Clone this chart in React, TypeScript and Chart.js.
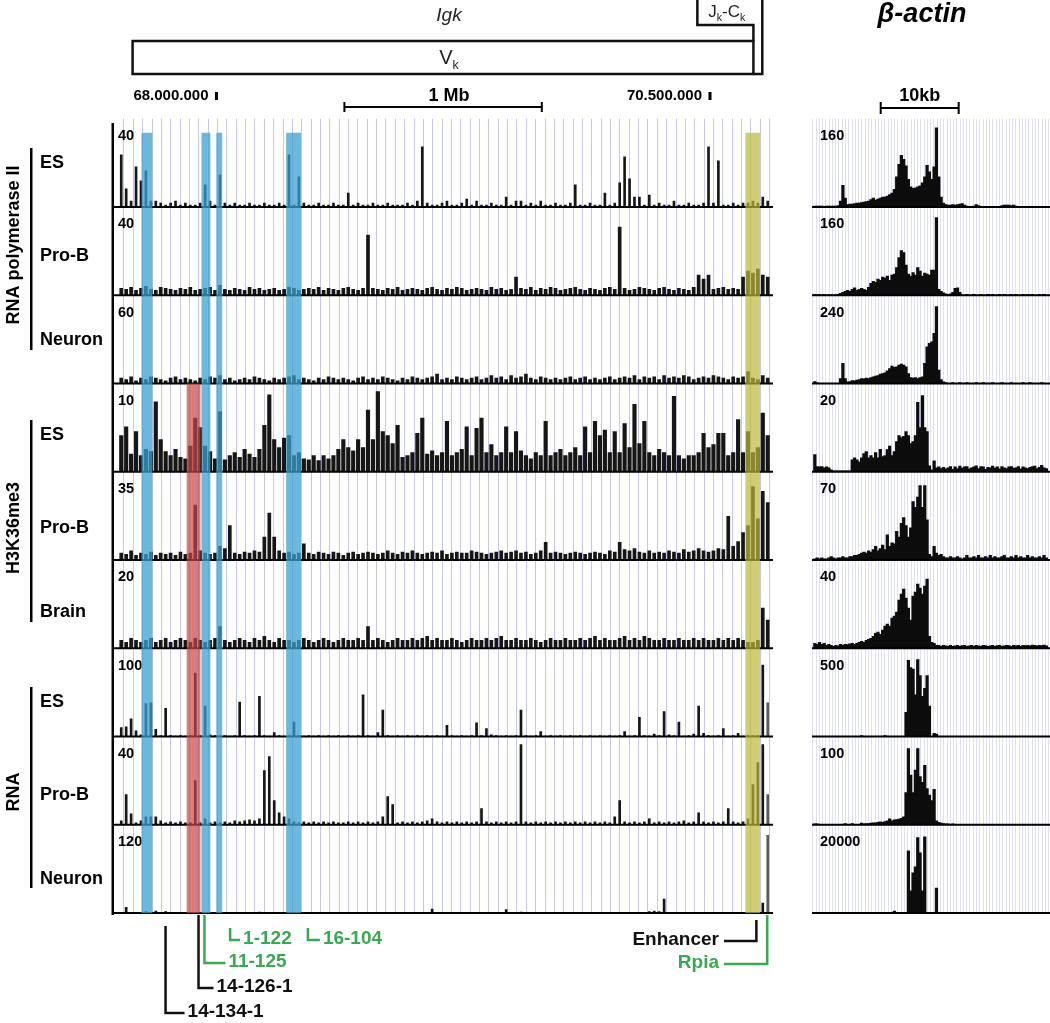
import { useEffect, useRef } from "react";
import { Chart, registerables } from "chart.js";

Chart.register(...registerables);

const FONT = 'Arial, "Liberation Sans", Helvetica, sans-serif';
const GREEN = "#38a852";

// ---------------- Igk locus panel (chromosome position, Mb) ----------------
const igkStartMb = 67.505;
const igkEndMb = 70.795;
const igkBinMb = 0.025;

const igkScaleMax = [40, 40, 60, 10, 35, 20, 100, 40, 120];
const sampleLabels = ["ES", "Pro-B", "Neuron", "ES", "Pro-B", "Brain", "ES", "Pro-B", "Neuron"];
const groupLabels = ["RNA polymerase II", "H3K36me3", "RNA"];

// RNA polymerase II
const polIIEs = [26,9,3,20,13,18,3,3,2,1, 2,3,1,2,1,1,2,11,3,1, 16,2,1,2,1,1,2,1,1,2, 1,1,2,1,26,1,15,2,1,1, 2,1,1,2,1,1,7,1,2,1, 1,2,1,1,2,1,1,1,2,1, 3,30,2,1,1,2,3,1,1,2, 4,1,3,1,1,2,1,1,5,1, 3,3,1,2,1,3,1,1,2,1, 1,2,11,1,1,2,1,1,7,1, 2,12,25,14,5,5,1,6,1,2, 1,1,3,1,1,2,1,1,2,30, 2,23,1,1,2,1,2,2,3,2, 5,3];
const polIIProB = [3.5,3,4,2.5,3.5,4.5,3,2.5,4,3.5, 3,2.5,3.5,3,4,2.5,3,3.5,4,2.5, 5,3,2.5,3.5,3,2.5,4,3,3.5,2.5, 3,3.5,2.5,3,4,3.5,2.5,3,3.5,3, 4,2.5,3.5,3,2.5,3.5,4,3,2.5,3.5, 30,3.5,3,2.5,3.5,3,4,2.5,3,3.5, 3,2.5,3.5,4,3,2.5,3.5,3,4,3.5, 2.5,3,3.5,3,2.5,4,3,3.5,2.5,3, 9,3.5,3,4,2.5,3.5,3,4,3.5,2.5, 3,3.5,4,3,2.5,3.5,3,2.5,3.5,4, 3,34,3.5,2.5,3,4,3.5,3,2.5,3.5, 4,3,2.5,3.5,3,2.5,4,10,8,10, 3,3.5,4,3,3.5,3,9,12,11,13, 10,9];
const polIINeuron = [4,3,5,2,4,3,5,4,3,2, 4,5,3,4,3,2,4,3,5,4, 6,3,4,2,3,4,3,5,4,3, 2,4,3,4,5,6,3,4,3,2, 4,3,5,4,3,4,3,2,4,5, 3,4,3,5,4,3,2,4,3,5, 4,3,4,5,7,3,4,3,5,4, 3,4,5,3,4,6,4,5,3,6, 4,5,7,4,3,5,4,3,4,3, 4,5,3,4,5,3,4,3,4,5, 3,4,5,4,6,3,5,4,5,3, 6,4,5,4,6,5,3,4,5,4, 6,5,4,3,5,4,5,9,4,3, 6,4];

// H3K36me3
const k36Es = [4.5,5.6,2.2,5,2,2.8,2.5,8.7,4,2.5, 2,2.8,1.8,1.6,3.2,6.7,5.5,3.2,2.5,1.6, 7.5,1.5,2,2.4,1.8,2.8,2.2,1.8,2.8,5.8, 9.6,4,3,4.2,4.5,2,2.4,1.6,1.5,2, 1.4,2,1.6,2,2.8,4,3,2.6,4,3, 7.7,4,10,5,4.5,3.5,5.8,1.8,2,2.4, 4.8,6.7,2.2,2.6,2,2.4,6.3,2,2.4,2.8, 5.6,2,5.4,6.7,2.4,3.4,2,2.4,5.6,2.4, 5,2.6,2,1.6,2.4,2,6.3,2,2.4,2.8, 2,2.4,3,2,5.6,2.4,6.3,4.5,5.2,2.4, 5,2.4,6,3,8.4,3.5,6.3,2.4,2,2.8, 2.4,2,9.4,2,1.6,2,2,2.4,4.8,3, 3.4,4.8,4.8,2,2.4,6.5,2.4,5,2.4,3, 7.3,4.5];
const k36ProB = [3,2.5,4,2,3,2.5,3.5,2,3,2.5, 3,2,3.5,2.5,3,24,4,3,2.5,3, 6,5,15,3,2.5,3.5,3,4,3.5,10, 20.5,10,4,3,3.5,2.5,3,7,3,2.5, 3.5,3,2.5,3.5,3,2,3,3.5,2.5,3, 3.5,3,2.5,3,4,3,2.5,3.5,3,4, 3,2.5,3,3.5,3,4,2.5,3,3.5,3, 3,4,3.5,3,2.5,3,3.5,4,3,3.5, 4,3,3.5,2.5,3,4,7.7,3,3.5,3, 2.5,3,3.5,3,2.5,3,3.5,3,2.5,4, 3.5,7.7,4.5,4,5,3.5,3,4,3,3.5, 3,4,3.5,3,4.5,3.5,4,5,4,3.5, 4,5,4.5,19,6,8,12,15,32,18, 30,25];
const k36Brain = [2,1.5,2.5,2,1.5,2,2.5,1.5,2,2.5, 1.5,2,2.5,2,1.5,2.5,2,1.5,2,2.5, 5.4,2,1.5,2,2.5,2,1.5,2.5,2,3, 2,1.5,2.5,2,2,1.5,2,2.5,2,1.5, 2,2.5,2,1.5,2,2.5,2,2,2.5,2, 5.4,2,2.5,2,1.5,2,2.5,2,2,2.5, 2,2.5,3,2,2.5,2,2,2.5,2,1.5, 2,2.5,2,2,2.5,2,2.5,3,2,2, 2.5,2,2,2.5,2,1.5,2,2.5,2,2, 2.5,2,2,2.5,2,2.5,3,2,2.5,2, 2,2.5,3,2,2.5,2,3,2.5,2,2, 2.5,2,2,2.5,2,2,2.5,2,2.5,2, 2,2.5,2,2.5,2,2.5,2,1.5,1.5,2, 10,7];

// RNA
const rnaEs = [11,12,22,7,2,41,42,9,1,35, 1,0.5,1,0.5,1,79,1,38,2,1, 0.5,1,0.5,1,43,1,0.5,1,50,1, 0.5,5,1,0.5,1,18,1,0.5,1,0.5, 1,0.5,1,0.5,1,0.5,1,0.5,1,52, 1,0.5,5,33,1,0.5,1,0.5,1,0.5, 1,0.5,1,0.5,1,0.5,14,1,0.5,1, 0.5,1,17,1,10,2,1,0.5,1,0.5, 1,33,1,0.5,1,6,0.5,1,0.5,1, 0.5,1,0.5,1,0.5,1,0.5,1,0.5,1, 0.5,1,6,0.5,1,24,1,0.5,3,1, 31,2,1,18,0.5,1,3,38,4,1, 0.5,1,10,0.5,1,4,0.5,1,1,1, 89,42];
const rnaProB = [2,15,5.5,1,2,4,4,4,2,1, 1.5,1,1.5,1,1,22,1,3,1,1.5, 1,1.5,1,2,1.5,2,2.5,2,3,27, 34,12,6,4,3,1.5,1,1.5,1,1.5, 1,1.5,1,1.5,1,1,1.5,1,1.5,1, 1.5,1,1.5,4,14,10,1,1.5,1,1.5, 1,1.5,2,3,1.5,1,1.5,1,1.5,1, 1.5,1,1.5,8,1.5,1,1.5,1,1.5,1, 1.5,40,1.5,1,1.5,1,1.5,1,1.5,1, 1.5,1,1.5,1,1.5,1,1.5,1,1.5,1, 4,12,1.5,1,1.5,1,1.5,3,1,1.5, 1,1.5,1,1.5,2,1,1.5,6,1.5,1, 1.5,1,1.5,8,1.5,1,1.5,3,20,31, 40,15];
const rnaNeuron = [0.5,8.5,0.5,0.3,0.5,2,0.5,3,0.5,2, 0.3,0.5,0.3,0.5,0.3,1,0.5,0.3,0.5,0.3, 0.5,0.3,0.5,1,0.3,0.5,0.3,0.5,1.5,0.3, 0.5,0.3,0.5,0.3,0.5,0.3,1,0.3,0.5,0.3, 0.5,0.3,0.5,0.3,0.5,0.3,0.5,0.3,0.5,0.3, 0.5,0.3,0.5,1,0.3,0.5,0.3,0.5,0.3,0.5, 0.3,0.5,0.3,6,0.3,0.5,0.3,0.5,0.3,0.5, 0.3,0.5,0.3,0.5,0.3,0.5,0.3,1,5,0.5, 0.3,1.5,0.3,0.5,0.3,0.5,0.3,0.5,0.3,0.5, 0.3,0.5,0.3,0.5,0.3,0.5,0.3,0.5,0.3,0.5, 0.3,0.5,0.3,0.5,0.3,0.5,0.3,2,3,2, 21,1,0.5,0.3,0.5,0.3,0.5,0.3,0.5,0.3, 0.5,0.3,0.5,0.3,0.5,0.3,0.5,0.3,0.5,0.3, 15,116];

const igkTracks = [polIIEs, polIIProB, polIINeuron, k36Es, k36ProB, k36Brain, rnaEs, rnaProB, rnaNeuron];

// Vk gene-segment grid (Mb)
const vkGridStartMb = 67.555;
const vkGridStepMb = 0.0474;
const vkGridCount = 69;

// Highlighted regions (Mb); first track they start on
const highlightBands = [
  { from: 67.62, to: 67.675, color: "rgba(60,160,205,0.75)", firstTrack: 0 },
  { from: 67.924, to: 67.969, color: "rgba(60,160,205,0.75)", firstTrack: 0 },
  { from: 67.999, to: 68.029, color: "rgba(60,160,205,0.75)", firstTrack: 0 },
  { from: 68.353, to: 68.428, color: "rgba(60,160,205,0.75)", firstTrack: 0 },
  { from: 67.849, to: 67.919, color: "rgba(200,70,70,0.7)", firstTrack: 3 },
  { from: 70.679, to: 70.753, color: "rgba(185,185,55,0.7)", firstTrack: 0 },
];

// Locus map features (Mb)
const vkStartMb = 67.575;
const vkEndMb = 70.72;
const jkCkStartMb = 70.436;
const jkCkEndMb = 70.765;
const coordMarksMb = [68.0, 70.5];
const coordMarkLabels = ["68.000.000", "70.500.000"];
const mbBarFromMb = 68.648;
const mbBarToMb = 69.648;

// Gene marks under the tracks
const geneMarkNames = ["14-134-1", "14-126-1", "11-125", "1-122", "16-104"];
const geneMarkMb = [67.742, 67.909, 67.939, 68.069, 68.463];
const geneMarkGreen = [false, false, true, true, true];
const enhancerMb = 70.735;
const rpiaMb = 70.79;

// ---------------- beta-actin panel (kb) ----------------
const actinEndKb = 30.1;
const actinBinKb = 0.3;
const actinScaleMax = [160, 160, 240, 20, 70, 40, 500, 100, 20000];

const actinPolIIEs = [2,2,2,2,1,2,2,2,2,2, 3,12,43,18,5,6,6,7,8,8, 9,10,11,12,15,18,14,16,18,20, 20,22,25,28,35,60,85,103,95,82, 55,40,37,38,40,42,48,60,83,70, 55,80,158,60,20,8,5,4,4,5, 4,5,6,7,4,2,1,1,2,5, 3,1,1,1,1,1,1,1,1,1, 3,4,4,4,3,4,2,1,1,0, 1,1,0,1,0,1,1,0,1,1];
const actinPolIIProB = [2,0,2,0,2,0,1,1,0,1, 2,4,6,8,10,8,12,15,10,12, 14,12,10,16,24,28,26,32,30,36, 34,38,30,40,42,55,75,89,85,60, 42,38,45,40,55,48,38,44,42,40, 50,50,155,12,8,5,3,2,3,6, 14,15,6,1,0,2,0,0,2,0, 0,2,0,0,2,0,2,0,0,2, 0,2,0,0,2,0,2,0,0,2, 0,2,0,2,0,0,2,0,2,0];
const actinPolIINeuron = [6,2,0,0,0,0,0,0,0,0, 0,15,60,15,5,6,9,8,10,12, 15,14,16,15,18,20,22,24,28,30, 32,38,45,52,48,50,55,58,55,50, 30,18,16,18,15,18,20,60,110,120, 125,150,230,40,12,5,3,0,0,3, 0,0,3,0,0,3,0,0,0,3, 0,0,3,0,0,0,3,0,0,0, 3,0,0,0,3,0,0,0,0,3, 0,0,3,0,0,0,0,3,0,0];
const actinK36Es = [4.3,1.3,1.2,1.3,1,1.2,1,0.5,0.2,0.2, 0.2,0.2,0.2,0.2,0.2,0.2,3,3.5,3,2.5, 3.5,4.5,5,3.5,4,3.5,4.8,3.5,5.6,3.8, 4,5.5,6.4,4,5,7.5,9,8.5,8.8,10, 9,7,7.5,9,17.3,11,19,11,10,1.5, 0.5,2.7,1,1.2,0.8,1.1,0.7,1,1.3,0.6, 1.2,0.8,1.4,0.9,1.2,1.3,0.7,1,1.2,1.5, 0.8,1.3,1.2,0.6,1.1,1,1.4,0.9,1.2,0.7, 1.3,1,0.8,1.2,1.3,0.9,1,1.3,0.7,1.2, 1,0.8,1.1,1.3,1.4,0.8,1.1,1.6,1,0.8];
const actinK36ProB = [1,2,1,2,1,1,2,3,2,1, 2,2,3,2,2,3,3,4,4,5, 6,7,6,8,7,9,12,8,10,13, 9,22,12,15,14,25,20,32,37,30, 20,28,51,46,55,65,46,65,35,5, 3,12,6,4,5,3,2,2,3,2, 2,3,2,1,2,4,2,2,3,2, 4,2,2,3,2,4,2,3,2,2, 3,4,2,2,3,2,4,2,3,2, 2,4,2,3,2,2,3,2,4,2];
const actinK36Brain = [2.5,2,3,2,2.5,1.5,2,1.5,1,1.5, 1.2,2,1.5,2,1.8,2.2,2.5,2,2.5,3, 3.5,3,4,4.5,5,6,7.5,8,7,9, 11,12,11,15,16,18,24,27,29.5,25, 20,14,26,28,32,30,27,31,34.5,6, 3,2.5,1.5,1.5,1,1.5,1.2,1,1.5,1, 1.2,1.5,1,1.3,1.5,1,1.2,1.4,1,1.5, 1.2,1,1.5,1.3,1,1.2,1.5,1,1.3,1.5, 1,1.2,1.5,1.3,1,1.5,1.2,1.4,1,1.5, 1.3,1.5,1.2,1.6,1.4,1.2,1.5,1.3,1.6,1.2];
const actinRnaEs = [0,0,0,0,0,0,0,0,0,0, 0,0,0,0,0,0,0,0,0,0, 6,0,0,0,0,0,0,0,0,0, 6,0,0,0,0,0,0,0,0,150, 475,430,420,260,480,380,250,300,380,190, 0,20,15,0,0,0,0,0,0,0, 0,0,0,0,0,0,0,0,0,0, 0,0,0,0,0,0,0,0,0,0, 0,0,0,0,0,0,0,0,0,0, 0,0,0,0,0,0,0,0,0,0];
const actinRnaProB = [1,1,0,0,0,0,0,0,0,0, 0,0,0,1.5,0,0,1.5,0,0,0, 2,1,1.5,1.5,2,2.5,2.5,3,3.5,3, 4,5,7.5,5,6,6.5,7,8,10,40, 95,62,40,68,95,60,53,74,45,37, 30,44,5,3,2,1.5,1,1,0.5,1, 0.5,0,0.5,0,0,0,0,0,0,0, 0,0,0,0,0,0,0,0,0,0, 0,0,0,0,0,0,0,0,0,0, 0,0,0,0,0,0,0,0,0,0];
const actinRnaNeuron = [0,0,0,0,0,0,0,0,0,0, 0,0,0,0,0,0,0,0,0,0, 0,0,0,0,0,0,0,0,0,0, 0,0,0,0,500,0,0,0,0,0, 15500,5500,10000,11500,18800,15000,5500,19000,0,0, 0,0,6200,0,0,0,0,0,0,0, 0,0,0,0,0,0,0,0,0,0, 0,0,0,0,0,0,0,0,0,0, 0,0,0,0,0,0,0,0,0,0, 0,0,0,0,0,0,0,0,0,0];

const actinTracks = [actinPolIIEs, actinPolIIProB, actinPolIINeuron, actinK36Es, actinK36ProB, actinK36Brain, actinRnaEs, actinRnaProB, actinRnaNeuron];

const actinGridStartKb = 0.1;
const actinGridStepKb = 0.42;
const actinGridCount = 72;
const tenKbFrom = 8.6;
const tenKbTo = 18.6;

// ---------------- layout ----------------
const TRACK_TOP = 118.75;
const TRACK_BOTTOM = 913;
const HEADROOM = 1.1;
const igkBarWidth = [2, 3, 3, 3.5, 3, 3, 2, 2, 2];
const grayEdgeTracks = [6, 7, 8];
const sampleLabelY = [163, 256, 340, 435, 528, 612, 702, 795, 879];
const groupLayout = [
  { center: 245, top: 148, bottom: 350 },
  { center: 528, top: 420, bottom: 622 },
  { center: 792, top: 687, bottom: 888 },
];

function trackScales(maxes: number[]) {
  const s: Record<string, any> = {};
  maxes.forEach((m, i) => {
    s["t" + i] = {
      type: "linear",
      axis: "y",
      position: "right",
      stack: "tracks",
      stackWeight: 1,
      min: 0,
      max: m * HEADROOM,
      display: false,
    };
  });
  return s;
}

function subText(ctx: CanvasRenderingContext2D, parts: Array<[string, boolean]>, x: number, y: number, size: number, center: boolean) {
  const widths = parts.map(([t, sub]) => {
    ctx.font = `${sub ? size * 0.62 : size}px ${FONT}`;
    return ctx.measureText(t).width;
  });
  const total = widths.reduce((a, b) => a + b, 0);
  let cx = center ? x - total / 2 : x;
  ctx.textAlign = "left";
  ctx.textBaseline = "alphabetic";
  parts.forEach(([t, sub], i) => {
    ctx.font = `${sub ? size * 0.62 : size}px ${FONT}`;
    ctx.fillText(t, cx, sub ? y + size * 0.25 : y);
    cx += widths[i];
  });
}

function drawBaselinesAndLabels(chart: any, maxes: number[], labelX: number) {
  const ctx = chart.ctx as CanvasRenderingContext2D;
  const area = chart.chartArea;
  ctx.save();
  maxes.forEach((m, i) => {
    const y = chart.scales["t" + i].getPixelForValue(0);
    ctx.fillStyle = "#000";
    ctx.fillRect(area.left, y - 1, area.right - area.left, 2);
    ctx.font = `bold 14.5px ${FONT}`;
    ctx.textAlign = "left";
    ctx.textBaseline = "middle";
    ctx.fillText(String(m), labelX, y - 71);
  });
  ctx.restore();
}

const igkDecor = {
  id: "igkDecor",
  afterDatasetsDraw(chart: any) {
    const ctx = chart.ctx as CanvasRenderingContext2D;
    const area = chart.chartArea;
    const x = chart.scales.x;
    drawBaselinesAndLabels(chart, igkScaleMax, area.left + 4);
    ctx.save();
    highlightBands.forEach((b) => {
      const x0 = x.getPixelForValue(b.from);
      const x1 = x.getPixelForValue(b.to);
      const top = b.firstTrack === 0 ? area.top + 14 : chart.scales["t" + b.firstTrack].top;
      ctx.fillStyle = b.color;
      ctx.fillRect(x0, top, x1 - x0, area.bottom - top);
    });
    ctx.restore();
  },
  afterDraw(chart: any) {
    const ctx = chart.ctx as CanvasRenderingContext2D;
    const area = chart.chartArea;
    const x = chart.scales.x;
    const px = (mb: number) => x.getPixelForValue(mb);
    ctx.save();
    ctx.fillStyle = "#000";
    ctx.strokeStyle = "#000";

    // left axis of the track stack
    ctx.fillRect(area.left - 2.5, 123, 2.5, area.bottom - 123 + 2);

    // group brackets, group names and sample names
    groupLabels.forEach((g, i) => {
      const L = groupLayout[i];
      ctx.fillRect(30, L.top, 2.5, L.bottom - L.top);
      ctx.save();
      ctx.translate(14, L.center);
      ctx.rotate(-Math.PI / 2);
      ctx.font = `bold 18px ${FONT}`;
      ctx.textAlign = "center";
      ctx.textBaseline = "middle";
      ctx.fillText(g, 0, 0);
      ctx.restore();
    });
    ctx.font = `bold 18px ${FONT}`;
    ctx.textAlign = "left";
    ctx.textBaseline = "middle";
    sampleLabels.forEach((s, i) => ctx.fillText(s, 40, sampleLabelY[i]));

    // locus map: Igk, V kappa and J kappa - C kappa
    ctx.fillStyle = "#222";
    ctx.font = `italic 19px ${FONT}`;
    ctx.textAlign = "center";
    ctx.textBaseline = "alphabetic";
    ctx.fillText("Igk", 449, 21);

    const vL = px(vkStartMb);
    const vR = px(vkEndMb);
    const jL = px(jkCkStartMb);
    const jR = px(jkCkEndMb);
    ctx.strokeStyle = "#111";
    ctx.lineWidth = 2.5;
    ctx.strokeRect(vL, 41, vR - vL, 33);
    ctx.beginPath();
    ctx.moveTo(vR, 41);
    ctx.lineTo(vR, 25);
    ctx.lineTo(jL, 25);
    ctx.lineTo(jL, 0);
    ctx.moveTo(jR, 0);
    ctx.lineTo(jR, 74);
    ctx.lineTo(vR, 74);
    ctx.stroke();
    subText(ctx, [["V", false], ["k", true]], 449, 64, 20, true);
    subText(ctx, [["J", false], ["k", true], ["-C", false], ["k", true]], jL + 11, 17, 17, false);

    // coordinates and 1 Mb scale bar
    ctx.fillStyle = "#000";
    ctx.font = `bold 15px ${FONT}`;
    ctx.textBaseline = "middle";
    coordMarksMb.forEach((mb, i) => {
      const p = px(mb);
      ctx.textAlign = "right";
      ctx.fillText(coordMarkLabels[i], p - 8, 96);
      ctx.fillRect(p - 1.5, 92, 3, 8);
    });
    ctx.font = `bold 18px ${FONT}`;
    ctx.textAlign = "center";
    ctx.fillText("1 Mb", 449, 96);
    const b0 = px(mbBarFromMb);
    const b1 = px(mbBarToMb);
    ctx.lineWidth = 2;
    ctx.strokeStyle = "#000";
    ctx.beginPath();
    ctx.moveTo(b0, 107);
    ctx.lineTo(b1, 107);
    ctx.moveTo(b0, 102);
    ctx.lineTo(b0, 112);
    ctx.moveTo(b1, 102);
    ctx.lineTo(b1, 112);
    ctx.stroke();

    // gene marks below the tracks
    const markTop = [926, 915, 915, 928, 928];
    const markBottom = [1013, 988, 963, 940, 940];
    const markArm = [19, 15, 21, 10, 12];
    ctx.lineWidth = 2.5;
    ctx.font = `bold 19px ${FONT}`;
    ctx.textAlign = "left";
    ctx.textBaseline = "middle";
    geneMarkNames.forEach((name, i) => {
      const p = px(geneMarkMb[i]);
      const c = geneMarkGreen[i] ? GREEN : "#111";
      ctx.strokeStyle = c;
      ctx.fillStyle = c;
      ctx.beginPath();
      ctx.moveTo(p, markTop[i]);
      ctx.lineTo(p, markBottom[i]);
      ctx.lineTo(p + markArm[i], markBottom[i]);
      ctx.stroke();
      ctx.fillText(name, p + markArm[i] + 3, markBottom[i] - 1);
    });
    // enhancer and Rpia
    const pe = px(enhancerMb);
    const pr = px(rpiaMb);
    ctx.textAlign = "right";
    ctx.strokeStyle = "#111";
    ctx.fillStyle = "#111";
    ctx.beginPath();
    ctx.moveTo(724, 941);
    ctx.lineTo(pe, 941);
    ctx.lineTo(pe, 920);
    ctx.stroke();
    ctx.fillText("Enhancer", 719, 940);
    ctx.strokeStyle = GREEN;
    ctx.fillStyle = GREEN;
    ctx.beginPath();
    ctx.moveTo(724, 964);
    ctx.lineTo(pr, 964);
    ctx.lineTo(pr, 915);
    ctx.stroke();
    ctx.fillText("Rpia", 719, 963);
    ctx.restore();
  },
};

const actinDecor = {
  id: "actinDecor",
  afterDatasetsDraw(chart: any) {
    drawBaselinesAndLabels(chart, actinScaleMax, chart.chartArea.left + 8);
  },
  afterDraw(chart: any) {
    const ctx = chart.ctx as CanvasRenderingContext2D;
    const x = chart.scales.x;
    ctx.save();
    ctx.fillStyle = "#000";
    ctx.strokeStyle = "#000";
    ctx.font = `italic bold 27px ${FONT}`;
    ctx.textAlign = "center";
    ctx.textBaseline = "middle";
    ctx.fillText("β-actin", 132, 15);
    ctx.font = `bold 18px ${FONT}`;
    const k0 = x.getPixelForValue(tenKbFrom);
    const k1 = x.getPixelForValue(tenKbTo);
    ctx.fillText("10kb", (k0 + k1) / 2, 96);
    ctx.lineWidth = 2;
    ctx.beginPath();
    ctx.moveTo(k0, 108);
    ctx.lineTo(k1, 108);
    ctx.moveTo(k0, 102);
    ctx.lineTo(k0, 114);
    ctx.moveTo(k1, 102);
    ctx.lineTo(k1, 114);
    ctx.stroke();
    ctx.restore();
  },
};

function igkConfig(): any {
  const datasets = igkTracks.map((vals, t) => ({
    type: "bar",
    label: sampleLabels[t],
    data: vals.map((v, i) => ({ x: igkStartMb + igkBinMb * (i + 0.5), y: v })),
    yAxisID: "t" + t,
    xAxisID: "x",
    grouped: false,
    barThickness: igkBarWidth[t],
    borderWidth: 0,
    backgroundColor: (c: any) =>
      grayEdgeTracks.includes(t) && c.dataIndex === vals.length - 1 ? "#5a5a5a" : "#161616",
  }));
  const vkGrid: number[] = [];
  for (let i = 0; i < vkGridCount; i++) vkGrid.push(vkGridStartMb + i * vkGridStepMb);
  return {
    type: "bar",
    data: { datasets },
    options: {
      animation: false,
      responsive: false,
      devicePixelRatio: 1,
      events: [],
      layout: { padding: { left: 114, right: 27, top: TRACK_TOP, bottom: 1023 - TRACK_BOTTOM } },
      plugins: { legend: { display: false }, tooltip: { enabled: false } },
      scales: {
        x: {
          type: "linear",
          position: "bottom",
          min: igkStartMb,
          max: igkEndMb,
          ticks: { display: false },
          border: { display: false },
          grid: { color: "rgba(160,160,220,0.6)", lineWidth: 1, drawTicks: false },
          afterBuildTicks: (s: any) => {
            s.ticks = vkGrid.map((v) => ({ value: v }));
          },
        },
        ...trackScales(igkScaleMax),
      },
    },
    plugins: [igkDecor],
  };
}

function actinConfig(): any {
  const datasets = actinTracks.map((vals, t) => ({
    type: "bar",
    label: sampleLabels[t],
    data: vals.map((v, i) => ({ x: actinBinKb * (i + 0.5), y: v })),
    yAxisID: "t" + t,
    xAxisID: "x",
    grouped: false,
    barThickness: 2.6,
    borderWidth: 0,
    backgroundColor: "#0d0d0d",
  }));
  const grid: number[] = [];
  for (let i = 0; i < actinGridCount; i++) grid.push(actinGridStartKb + i * actinGridStepKb);
  return {
    type: "bar",
    data: { datasets },
    options: {
      animation: false,
      responsive: false,
      devicePixelRatio: 1,
      events: [],
      layout: { padding: { left: 22, right: 0, top: TRACK_TOP, bottom: 1023 - TRACK_BOTTOM } },
      plugins: { legend: { display: false }, tooltip: { enabled: false } },
      scales: {
        x: {
          type: "linear",
          position: "bottom",
          min: 0,
          max: actinEndKb,
          ticks: { display: false },
          border: { display: false },
          grid: { color: "rgba(185,185,230,0.45)", lineWidth: 1, drawTicks: false },
          afterBuildTicks: (s: any) => {
            s.ticks = grid.map((v) => ({ value: v }));
          },
        },
        ...trackScales(actinScaleMax),
      },
    },
    plugins: [actinDecor],
  };
}

export default function App() {
  const leftRef = useRef<HTMLCanvasElement>(null);
  const rightRef = useRef<HTMLCanvasElement>(null);

  useEffect(() => {
    const left = new Chart(leftRef.current as HTMLCanvasElement, igkConfig());
    const right = new Chart(rightRef.current as HTMLCanvasElement, actinConfig());
    return () => {
      left.destroy();
      right.destroy();
    };
  }, []);

  return (
    <div
      style={{
        position: "absolute",
        left: 0,
        top: 0,
        width: 1050,
        height: 1023,
        background: "#fff",
        overflow: "hidden",
      }}
    >
      <canvas
        ref={leftRef}
        width={800}
        height={1023}
        style={{ position: "absolute", left: 0, top: 0, width: 800, height: 1023 }}
      />
      <canvas
        ref={rightRef}
        width={260}
        height={1023}
        style={{ position: "absolute", left: 790, top: 0, width: 260, height: 1023 }}
      />
    </div>
  );
}
